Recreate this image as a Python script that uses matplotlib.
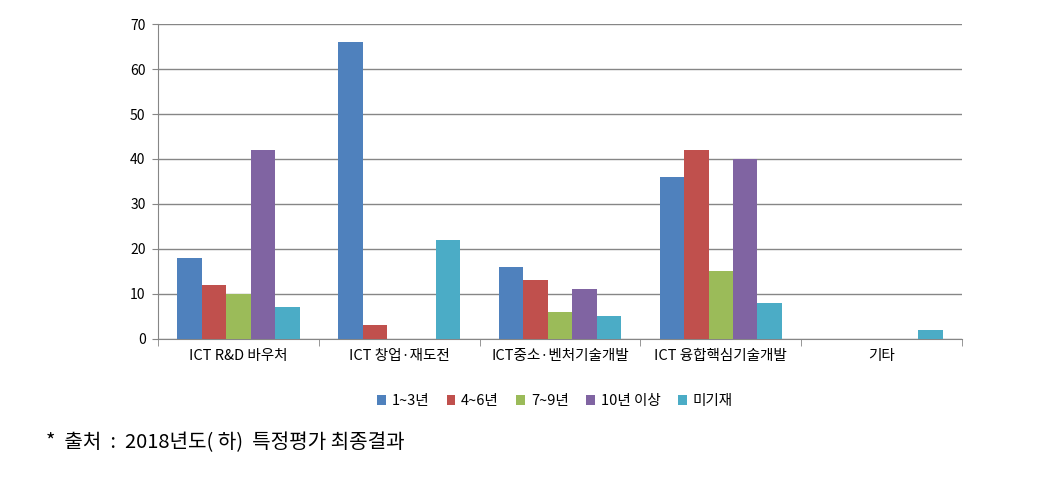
import matplotlib.pyplot as plt
import numpy as np

plt.rcParams['font.family'] = ['Noto Sans CJK KR', 'DejaVu Sans']

# Data
categories = ['ICT R&D 바우처', 'ICT 창업·재도전', 'ICT중소·벤처기술개발', 'ICT 융합핵심기술개발', '기타']
series_names = ['1~3년', '4~6년', '7~9년', '10년 이상', '미기재']
yr_1_3 = [18, 66, 16, 36, 0]
yr_4_6 = [12, 3, 13, 42, 0]
yr_7_9 = [10, 0, 6, 15, 0]
yr_10_plus = [42, 0, 11, 40, 0]
missing = [7, 22, 5, 8, 2]
y_ticks = [0, 10, 20, 30, 40, 50, 60, 70]
source_note = '*  출처  :  2018년도( 하)  특정평가 최종결과'

colors = ['#4F81BD', '#C0504D', '#9BBB59', '#8064A2', '#4BACC6']
all_series = [yr_1_3, yr_4_6, yr_7_9, yr_10_plus, missing]

fig = plt.figure(figsize=(10.45, 4.94), dpi=100)
ax = fig.add_axes([0.1512, 0.3138, 0.7694, 0.6376])

x = np.arange(len(categories))
n = len(all_series)
bar_w = 0.152
for i, (vals, name, c) in enumerate(zip(all_series, series_names, colors)):
    ax.bar(x + (i - (n - 1) / 2) * bar_w, vals, width=bar_w, color=c, label=name, zorder=3)

ax.set_xlim(-0.5, len(categories) - 0.5)
ax.set_ylim(0, 70)
ax.set_yticks(y_ticks)
ax.tick_params(axis='y', labelsize=10, length=4, color='#868686', pad=5)
ax.grid(axis='y', color='#868686', linewidth=1, zorder=0)

# category labels between boundary ticks
ax.set_xticks(x)
ax.set_xticklabels(categories, fontsize=10.5)
ax.tick_params(axis='x', length=0, pad=7)
ax.set_xticks(np.arange(len(categories) + 1) - 0.5, minor=True)
ax.tick_params(axis='x', which='minor', length=5, color='#868686')

for s in ['top', 'right']:
    ax.spines[s].set_visible(False)
for s in ['left', 'bottom']:
    ax.spines[s].set_color('#868686')

fig.legend(loc='center', bbox_to_anchor=(0.531, 0.188), ncol=5, frameon=False,
           fontsize=10.5, handlelength=0.6, handleheight=0.6, handletextpad=0.4,
           columnspacing=1.2)

fig.text(0.044, 0.103, source_note, fontsize=14.5, va='center', ha='left')

fig.savefig('out.png', dpi=100)
